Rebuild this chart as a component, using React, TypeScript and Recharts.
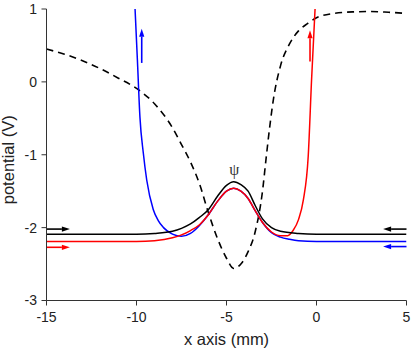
import React from 'react';
import { LineChart, Line, XAxis, YAxis, ReferenceLine, ReferenceDot, Label } from 'recharts';

// ---- data ----
const xMajorTicks = [-15, -10, -5, 0, 5];
const xMinorTicks = [-12.5, -7.5, -2.5, 2.5];
const xMirrorTicks = [-15, -12.5, -10, -7.5, -5, -2.5, 0, 2.5, 5];
const yMajorTicks = [1, 0, -1, -2, -3];
const yMinorTicks = [0.5, -0.5, -1.5, -2.5];
const yMirrorTicks = [1, 0.5, 0, -0.5, -1, -1.5, -2, -2.5, -3];

const potentialX = [-15, -14, -13, -12, -11, -10, -9, -8, -7.5, -7, -6.5, -6, -5.5, -5, -4.6, -4.2, -3.8, -3.4, -3, -2.8, -2.6, -2.4, -2, -1.5, -1, -0.5, 0, 1, 2, 3, 4, 5];
const potentialV = [0.45, 0.38, 0.29, 0.18, 0.05, -0.09, -0.3, -0.63, -0.86, -1.1, -1.4, -1.8, -2.15, -2.42, -2.56, -2.5, -2.33, -2.05, -1.5, -1.05, -0.62, -0.25, 0.22, 0.52, 0.7, 0.8, 0.88, 0.94, 0.96, 0.965, 0.955, 0.94];

const blackX = [-15, -10, -9, -8, -7.5, -7, -6.5, -6, -5.5, -5, -4.6, -4.2, -3.8, -3.4, -3, -2.5, -2, -1, 0, 5];
const blackV = [-2.09, -2.09, -2.08, -2.05, -2.01, -1.95, -1.86, -1.75, -1.57, -1.42, -1.37, -1.41, -1.5, -1.7, -1.88, -2.0, -2.05, -2.08, -2.09, -2.09];

const redX = [-15, -10, -9, -8, -7.5, -7, -6.5, -6, -5.5, -5, -4.6, -4.2, -3.8, -3.4, -3, -2.5, -2, -1.6, -1.3, -1.0, -0.73, -0.46, -0.27, -0.08];
const redV = [-2.19, -2.19, -2.18, -2.14, -2.1, -2.04, -1.96, -1.82, -1.64, -1.5, -1.46, -1.5, -1.6, -1.77, -1.93, -2.06, -2.11, -2.11, -2.04, -1.89, -1.62, -1.02, 0.05, 1.0];

const blueX = [-10.08, -9.95, -9.81, -9.62, -9.43, -9.07, -8.8, -8.5, -8, -7.5, -7, -6.5, -6, -5.5, -5, -4.6, -4.2, -3.8, -3.4, -3, -2.5, -2, -1.5, -1, 0, 5];
const blueV = [1.0, 0.3, -0.48, -0.98, -1.35, -1.75, -1.9, -2.0, -2.09, -2.12, -2.08, -1.97, -1.82, -1.64, -1.5, -1.46, -1.5, -1.6, -1.77, -1.93, -2.07, -2.13, -2.16, -2.18, -2.19, -2.19];

// arrows: start point, end point (head at end), colour
const arrowX1 = [-15, -15, 5, 5, -9.71, -0.36];
const arrowY1 = [-2.02, -2.27, -2.02, -2.26, 0.26, 0.28];
const arrowX2 = [-13.7, -13.7, 3.7, 3.7, -9.71, -0.36];
const arrowY2 = [-2.02, -2.27, -2.02, -2.26, 0.73, 0.71];
const arrowColors = ['#000000', '#ff0000', '#000000', '#0000ff', '#0000ff', '#ff0000'];

const psiLabel = { x: -4.57, y: -1.2, text: 'ψ' };

const toPoints = (xs: number[], vs: number[]) => xs.map((x, i) => ({ x, v: vs[i] }));
const potentialData = toPoints(potentialX, potentialV);
const blackData = toPoints(blackX, blackV);
const redData = toPoints(redX, redV);
const blueData = toPoints(blueX, blueV);

const FONT = '"Liberation Sans", Arial, sans-serif';
const AXIS = '#333';

const ArrowShape = (props: any) => {
  const { x1, y1, x2, y2, stroke } = props;
  if ([x1, y1, x2, y2].some((v) => v === undefined || isNaN(v))) return null;
  const dx = x2 - x1;
  const dy = y2 - y1;
  const len = Math.sqrt(dx * dx + dy * dy) || 1;
  const ux = dx / len;
  const uy = dy / len;
  const headL = 8;
  const headW = 2.6;
  const bx = x2 - ux * headL;
  const by = y2 - uy * headL;
  const px = -uy;
  const py = ux;
  const pts = `${x2},${y2} ${bx + px * headW},${by + py * headW} ${bx - px * headW},${by - py * headW}`;
  return (
    <g>
      <line x1={x1} y1={y1} x2={bx} y2={by} stroke={stroke} strokeWidth={1.6} />
      <polygon points={pts} fill={stroke} stroke="none" />
    </g>
  );
};

export default function App() {
  return (
    <div style={{ position: 'absolute', left: 0, top: 0, width: 416, height: 350, background: '#fff' }}>
      <LineChart width={416} height={350} margin={{ top: 9, right: 9.5, left: 0, bottom: 0 }}>
        <XAxis
          xAxisId={0}
          dataKey="x"
          type="number"
          domain={[-15, 5]}
          ticks={xMajorTicks}
          interval={0}
          height={49.5}
          tickSize={5}
          tickMargin={7}
          stroke={AXIS}
          tick={{ fill: '#222', fontSize: 14, fontFamily: FONT }}
          allowDataOverflow
        >
          <Label value="x axis (mm)" position="insideBottom" offset={5} style={{ fill: '#222', fontSize: 16.5, fontFamily: FONT }} />
        </XAxis>
        <XAxis
          xAxisId="minor"
          type="number"
          domain={[-15, 5]}
          ticks={xMinorTicks}
          interval={0}
          height={0}
          tickSize={3}
          axisLine={false}
          tick={false}
          stroke={AXIS}
          allowDataOverflow
        />
        <XAxis
          xAxisId="top"
          orientation="top"
          type="number"
          domain={[-15, 5]}
          ticks={xMirrorTicks}
          interval={0}
          height={0}
          tickSize={3}
          mirror
          tick={false}
          stroke={AXIS}
          allowDataOverflow
        />
        <YAxis
          yAxisId={0}
          type="number"
          domain={[-3, 1]}
          ticks={yMajorTicks}
          interval={0}
          width={46.5}
          tickSize={5}
          tickMargin={4.5}
          stroke={AXIS}
          tick={{ fill: '#222', fontSize: 14, fontFamily: FONT }}
          allowDataOverflow
        >
          <Label value="potential (V)" angle={-90} position="insideLeft" offset={8} dy={5} style={{ fill: '#222', fontSize: 16.5, fontFamily: FONT, textAnchor: 'middle' }} />
        </YAxis>
        <YAxis
          yAxisId="minor"
          type="number"
          domain={[-3, 1]}
          ticks={yMinorTicks}
          interval={0}
          width={0}
          tickSize={3}
          axisLine={false}
          tick={false}
          stroke={AXIS}
          allowDataOverflow
        />
        <YAxis
          yAxisId="right"
          orientation="right"
          type="number"
          domain={[-3, 1]}
          ticks={yMirrorTicks}
          interval={0}
          width={0}
          tickSize={3}
          mirror
          tick={false}
          stroke={AXIS}
          allowDataOverflow
        />

        <Line data={potentialData} dataKey="v" type="monotone" stroke="#000" strokeWidth={1.6} strokeDasharray="7 5" dot={false} isAnimationActive={false} />
        <Line data={blueData} dataKey="v" type="monotone" stroke="#0000ff" strokeWidth={1.5} dot={false} isAnimationActive={false} />
        <Line data={redData} dataKey="v" type="monotone" stroke="#ff0000" strokeWidth={1.5} dot={false} isAnimationActive={false} />
        <Line data={blackData} dataKey="v" type="monotone" stroke="#000" strokeWidth={1.5} dot={false} isAnimationActive={false} />

        {arrowX1.map((x1, i) => (
          <ReferenceLine
            key={i}
            segment={[
              { x: x1, y: arrowY1[i] },
              { x: arrowX2[i], y: arrowY2[i] },
            ]}
            stroke={arrowColors[i]}
            ifOverflow="visible"
            shape={ArrowShape}
          />
        ))}

        <ReferenceDot
          x={psiLabel.x}
          y={psiLabel.y}
          r={0}
          fill="none"
          stroke="none"
          ifOverflow="visible"
          label={{ value: psiLabel.text, position: 'center', fill: '#333', fontSize: 16, fontFamily: '"Liberation Serif", serif' }}
        />
      </LineChart>
    </div>
  );
}
